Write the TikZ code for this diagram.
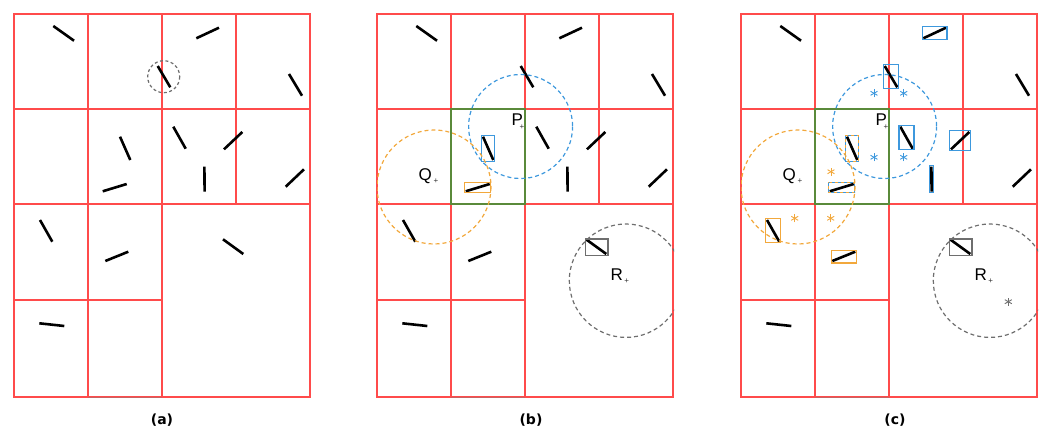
\documentclass[tikz,border=0pt]{standalone}
\usepackage{fontspec}
\setmainfont{Liberation Sans}
\newfontfamily\panelfont{DejaVu Sans}
\usetikzlibrary{positioning,calc}
\definecolor{gridred}{HTML}{FF4B4B}
\definecolor{cellgreen}{HTML}{5A8A3A}
\definecolor{qblue}{HTML}{3D98DD}
\definecolor{qorange}{HTML}{F2A83C}
\definecolor{qgray}{HTML}{6E6E6E}

\newcommand{\drawgrid}{%
  \draw[gridline] (14,14) rectangle (310,397);
  \draw[gridline] (88,14) -- (88,397) (162,14) -- (162,397) (236,14) -- (236,204);
  \draw[gridline] (14,109) -- (310,109) (14,204) -- (310,204) (14,300) -- (162,300);
  \draw[gridline, draw=gridred!55!gray] (88,397.5) -- (162,397.5);
}
\newcommand{\drawsticks}{%
  \foreach \xa/\ya/\xb/\yb in {53.3/26/74/40.7, 196.3/38.3/219/27.7, 157.7/66/170.3/87.3,
      289/74/302/95.7, 120/136.7/130.3/160, 173.3/126.7/185.7/148.7, 224/149.3/242.3/132,
      102.7/191.3/126.7/184, 204.4/166.7/204.6/191.7, 285.7/186.7/304/169.3,
      40/220/52.3/241.7, 105.3/261/128.3/251.7, 223/239.3/243.3/254, 39.3/323.3/64.3/326}
    \draw[stick] (\xa,\ya) -- (\xb,\yb);
}
\newcommand{\drawast}[2]{% colour, position
  \foreach \a in {90,30,-30}
    \draw[draw=#1, line width=0.9pt] (#2) ++(\a:4) -- ++(\a+180:8);
}
\newcommand{\drawqueries}{%
  \begin{scope}
    \clip (14,14) rectangle (311,397);
    \draw[searchring, draw=qblue] (157.6,126.5) circle (52);
    \draw[searchring, draw=qorange] (71,187) circle (57);
    \draw[searchring, draw=qgray] (263,280.7) circle (56.7);
  \end{scope}
  \node[qlabel] (Plabel) at (148.5,125) {P};
  \node[centremark] (Pcentre) at (159,127.5) {+};
  \node[qlabel] (Qlabel) at (55.5,180.5) {Q};
  \node[centremark] (Qcentre) at (73,181) {+};
  \node[qlabel] (Rlabel) at (247.3,280) {R};
  \node[centremark] (Rcentre) at (263.7,281) {+};
}

\begin{document}
\begin{tikzpicture}[x=1pt, y=-1pt,
  gridline/.style={draw=gridred, line width=1.3pt},
  cellbox/.style={draw=cellgreen, line width=1.3pt},
  stick/.style={line width=2.6pt},
  hit/.style={line width=1.1pt},
  searchring/.style={line width=1.2pt, dash pattern=on 4pt off 3pt},
  qlabel/.style={anchor=base west, inner sep=0pt, font=\fontsize{17}{17}\selectfont},
  centremark/.style={inner sep=0pt, text=black!80, font=\fontsize{8}{8}\selectfont},
  panellabel/.style={font=\panelfont\bfseries\fontsize{14}{16}\selectfont}]
\useasboundingbox (0,0) rectangle (1047,429);

% (a)
\begin{scope}
  \drawgrid
  \drawsticks
  \draw[searchring, draw=qgray, dash pattern=on 3pt off 2.5pt] (163.7,76.7) circle (16);
\end{scope}

% (b)
\begin{scope}[shift={(363,0)}]
  \drawgrid
  \draw[cellbox] (88,109) rectangle (162,204);
  \drawsticks
  \draw[hit, draw=qblue] (118.8,135.5) rectangle (131.8,161.2);
  \draw[hit, draw=qorange] (101.5,182.8) rectangle (127.9,192.5);
  \draw[hit, draw=qgray] (222.5,239) rectangle (245,255.3);
  \drawqueries
\end{scope}

% (c)
\begin{scope}[shift={(727,0)}]
  \drawgrid
  \draw[cellbox] (88,109) rectangle (162,204);
  \drawsticks
  \draw[hit, draw=qblue] (195.5,26.5) rectangle (220,39.5);
  \draw[hit, draw=qblue] (156.5,64.5) rectangle (171.5,88.5);
  \draw[hit, draw=qblue] (172,125.5) rectangle (187,149.9);
  \draw[hit, draw=qblue] (222.8,130.8) rectangle (243.5,150.5);
  \draw[hit, draw=qblue] (202.3,165.5) rectangle (206.7,192.9);
  \draw[hit, draw=qorange] (118.8,135.5) rectangle (131.8,161.2);
  \draw[hit, draw=qblue, dash pattern=on 3pt off 3pt] (118.8,135.5) rectangle (131.8,161.2);
  \draw[hit, draw=qorange] (101.5,182.8) rectangle (127.9,192.5);
  \draw[hit, draw=qblue, dash pattern=on 3pt off 3pt] (101.5,182.8) rectangle (127.9,192.5);
  \draw[hit, draw=qorange] (38.7,218.7) rectangle (53.5,242.8);
  \draw[hit, draw=qorange] (104.4,250.5) rectangle (129.3,263);
  \draw[hit, draw=qgray] (222.5,239) rectangle (245,255.3);
  \drawast{qblue}{147,93.3}
  \drawast{qblue}{176.7,93.3}
  \drawast{qblue}{147,157.3}
  \drawast{qblue}{176.7,157.3}
  \drawast{qorange}{104,171.7}
  \drawast{qorange}{67.7,218.3}
  \drawast{qorange}{103.7,218.3}
  \drawast{qgray}{281.3,301.7}
  \drawqueries
\end{scope}

\node[panellabel] (capa) at (162,420) {(a)};
\node[panellabel] (capb) at (531,420) {(b)};
\node[panellabel] (capc) at (895,420) {(c)};
\end{tikzpicture}
\end{document}
